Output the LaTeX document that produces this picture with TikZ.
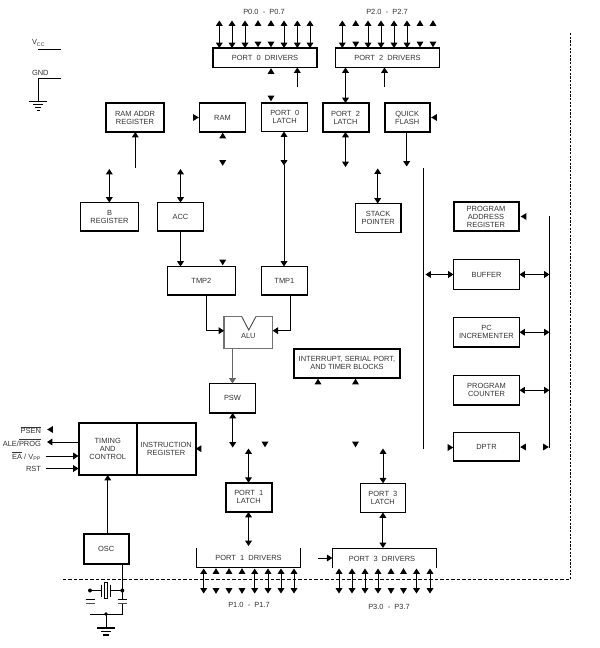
\documentclass[tikz,border=0pt]{standalone}
\usepackage{fontspec}
\setmainfont{Liberation Sans}
\usetikzlibrary{arrows.meta}
\tikzset{
  box/.style={draw=black,line width=0.8pt,inner sep=0pt,outer sep=0pt,align=center,font=\fontsize{5.6pt}{6pt}\selectfont,text=black!80},
  heavy/.style={box,line width=1.5pt},
  wire/.style={line width=0.75pt,black},
  one/.style={wire,-{Triangle[length=4pt,width=5pt]}},
  dbl/.style={wire,{Triangle[length=4pt,width=5pt]}-{Triangle[length=4pt,width=5pt]}},
  lbl/.style={inner sep=0pt,outer sep=0pt,font=\fontsize{5.6pt}{6pt}\selectfont,text=black!80},
  border/.style={line width=0.6pt,black,dash pattern=on 2.6pt off 1.5pt}
}
\newcommand{\bx}[7][box]{\node[#1,minimum width={(#4-#3)*0.75pt},minimum height={(#6-#5)*0.75pt}] (#2) at ({(#3+#4)/2},{(#5+#6)/2}) {#7};}
\newcommand{\tu}[2]{\fill (#1-3.4,#2+2.8) -- (#1+3.4,#2+2.8) -- (#1,#2-2.8) -- cycle;}
\newcommand{\td}[2]{\fill (#1-3.4,#2-2.8) -- (#1+3.4,#2-2.8) -- (#1,#2+2.8) -- cycle;}
\newcommand{\tl}[2]{\fill (#1+2.8,#2-3.4) -- (#1+2.8,#2+3.4) -- (#1-2.8,#2) -- cycle;}
\newcommand{\tr}[2]{\fill (#1-2.8,#2-3.4) -- (#1-2.8,#2+3.4) -- (#1+2.8,#2) -- cycle;}
\begin{document}
\begin{tikzpicture}[x=0.75pt,y=-0.75pt]
\useasboundingbox (0,0) rectangle (599,648);
% labels
\node[lbl] (lp0) at (264,12) {P0.0\ \ -\ \ P0.7};
\node[lbl] (lp2) at (387,12) {P2.0\ \ -\ \ P2.7};
\node[lbl] (lp1) at (249,605) {P1.0\ \ -\ \ P1.7};
\node[lbl] (lp3) at (389,607) {P3.0\ \ -\ \ P3.7};
\node[lbl,anchor=west] (lvcc) at (32,43) {V\textsubscript{CC}};
\node[lbl,anchor=west] (lgnd) at (32,73) {GND};
% boxes
\bx{p0d}{213}{317}{48}{67.5}{PORT\ \ 0\ \ DRIVERS}
\bx{p2d}{335.5}{439.5}{48}{67.5}{PORT\ \ 2\ \ DRIVERS}
\bx[heavy]{rar}{105.7}{164.3}{103}{132}{RAM ADDR\\REGISTER}
\bx{ram}{199.5}{245.5}{103}{132}{RAM}
\bx{p0l}{261.7}{307.7}{103}{131.5}{PORT\ \ 0\\LATCH}
\bx[heavy]{p2l}{322.5}{368.5}{103}{132}{PORT\ \ 2\\LATCH}
\bx[heavy]{qf}{384.5}{430}{103}{132}{QUICK\\FLASH}
\bx{breg}{80.5}{138.5}{202.5}{231}{B\\REGISTER}
\bx{acc}{157.5}{203.5}{202.5}{231}{ACC}
\bx{sp}{355.3}{401}{203.5}{232.5}{STACK\\POINTER}
\bx[heavy]{par}{453.5}{518.5}{202}{231}{PROGRAM\\ADDRESS\\REGISTER}
\bx{buf}{453.5}{519.5}{259.5}{289.5}{BUFFER}
\bx{pci}{453.5}{519.5}{317.5}{347}{PC\\INCREMENTER}
\bx{pc}{453.5}{519.5}{375.5}{405}{PROGRAM\\COUNTER}
\bx{dptr}{453.5}{519.5}{432.5}{461}{DPTR}
\bx{tmp2}{167.3}{235.5}{266.5}{295}{TMP2}
\bx{tmp1}{261.3}{307.5}{266.5}{295}{TMP1}
\bx[box,draw=black!55]{alu}{224}{272.7}{316.5}{348.5}{\raisebox{-9pt}{ALU}}
\bx[heavy]{irq}{294}{400}{348.5}{378}{INTERRUPT, SERIAL PORT,\\AND TIMER BLOCKS}
\bx{psw}{209.5}{255.5}{383.5}{413}{PSW}
\bx[heavy]{tc}{78.5}{137}{422.5}{475}{TIMING\\AND\\CONTROL}
\bx[heavy]{ir}{137}{195.5}{422.5}{475}{INSTRUCTION\\REGISTER}
\bx[heavy]{p1l}{225.7}{271.7}{482.7}{512}{PORT\ \ 1\\LATCH}
\bx{p3l}{360.3}{405.5}{483.3}{512.5}{PORT\ \ 3\\LATCH}
\bx[heavy]{osc}{83.5}{129}{533.5}{563.5}{OSC}
\node[lbl] (p1t) at (248.5,558) {PORT\ \ 1\ \ DRIVERS};
\node[lbl] (p3t) at (382,558.5) {PORT\ \ 3\ \ DRIVERS};
% open driver frames
\coordinate (p1a) at (196.7,548); \coordinate (p1b) at (196.7,567.3);
\coordinate (p1c) at (300.3,567.3); \coordinate (p1e) at (300.3,548);
\draw[wire] (p1a) -- (p1b) -- (p1c) -- (p1e);
\coordinate (p3a) at (332.3,567.5); \coordinate (p3b) at (332.3,548);
\coordinate (p3c) at (436.5,548); \coordinate (p3e) at (436.5,567.5);
\draw[wire] (p3a) -- (p3b) -- (p3c) -- (p3e);
% top pin arrows
\foreach \x in {219.3,232,245,284,297.3,310}{\coordinate (a) at (\x,20.5); \draw[dbl] (a) -- (a |- p0d.north);}
\foreach \x in {258,271}{\tu{\x}{23}\td{\x}{44.5}}
\foreach \x in {342.3,368,381,394,407}{\coordinate (a) at (\x,20.5); \draw[dbl] (a) -- (a |- p2d.north);}
\foreach \x in {355.7,420,433}{\tu{\x}{23}\td{\x}{44.5}}
% bottom pin arrows
\foreach \x in {203.7,254.7,268,281,294,339,352,365,378,416.5,430}{\coordinate (a) at (\x,568.5); \coordinate (b) at (\x,593.5); \draw[dbl] (a) -- (b);}
\foreach \x in {216,229,242,391,403.5}{\tu{\x}{571}\td{\x}{591}}
% power
\coordinate (v1) at (38,50); \coordinate (v2) at (61,50); \draw[wire] (v1) -- (v2);
\coordinate (g1) at (61,79); \coordinate (g2) at (38,79); \coordinate (g3) at (38,101);
\draw[wire] (g1) -- (g2) -- (g3);
\draw[wire] (29,101.3) -- (47,101.3) (33,105) -- (43,105) (35,108) -- (41,108) (36.5,111) -- (39.5,111);
% upper connectors
\tu{271}{71}
\coordinate (c2) at (297.3,87); \draw[one] (c2) -- (c2 |- p0d.south);
\td{271}{98.5}
\tr{196}{117.5}
\coordinate (c3) at (345.5,68); \draw[dbl] (p2d.south -| c3) -- (c3 |- p2l.north);
\coordinate (c4) at (384.5,87); \draw[one] (c4) -- (c4 |- p2d.south);
\coordinate (c5) at (345.5,167); \draw[dbl] (c5 |- p2l.south) -- (c5);
\coordinate (c6) at (406.7,166.5); \draw[one] (c6 |- qf.south) -- (c6);
\tl{434}{117.5}
\coordinate (c7) at (135.3,167.7); \draw[one] (c7) -- (c7 |- rar.south);
\tu{222.7}{135.5} \td{222.7}{163}
\coordinate (c8) at (109.3,169); \draw[dbl] (c8) -- (c8 |- breg.north);
\coordinate (c9) at (180.5,169); \draw[dbl] (c9) -- (c9 |- acc.north);
\coordinate (c10) at (377.7,168.5); \draw[dbl] (c10) -- (c10 |- sp.north);
\coordinate (c11) at (284,165.5);
\draw[dbl] (c11 |- p0l.south) -- (c11);
\draw[one] (c11) -- (c11 |- tmp1.north);
\coordinate (c12) at (180.5,240);
\draw[one] (c12 |- acc.south) -- (c12 |- tmp2.north);
\td{222.7}{262.5}
% ALU
\draw[draw=white,line width=1.4pt] (241.7,316.5) -- (256,316.5);
\coordinate (n1) at (241.7,316.5); \coordinate (n2) at (248.7,330); \coordinate (n3) at (256,316.5);
\draw[line width=0.7pt,black!70] (n1) -- (n2) -- (n3);
\coordinate (c13) at (206.7,330.7); \draw[one] (c13 |- tmp2.south) -- (c13) -- (c13 -| alu.west);
\coordinate (c14) at (290.3,330.7); \draw[one] (c14 |- tmp1.south) -- (c14) -- (c14 -| alu.east);
\draw[one,black!60] (alu.south -| psw.north) -- (psw.north);
\tu{318}{381.5} \tu{355.5}{381.5}
% lower connectors
\coordinate (c15) at (232.7,447.5); \draw[dbl] (c15 |- psw.south) -- (c15);
\td{265}{444.5} \td{355.5}{444.5}
\coordinate (c16) at (248.5,448.5); \draw[dbl] (c16) -- (c16 |- p1l.north);
\coordinate (c17) at (248.5,546); \draw[dbl] (c17 |- p1l.south) -- (c17);
\coordinate (c18) at (383,448.5); \draw[dbl] (c18) -- (c18 |- p3l.north);
\draw[dbl] (p3l.south) -- (p3l.south |- p3c);
\coordinate (c19) at (318,558); \draw[one] (c19) -- (c19 -| p3a);
\tl{198.5}{448.7}
% buses
\coordinate (ba) at (423.3,168); \coordinate (bb) at (423.3,449); \draw[wire] (ba) -- (bb);
\coordinate (bc) at (549.5,216); \coordinate (bd) at (549.5,447.5); \draw[wire] (bc) -- (bd);
\coordinate (la) at (425.5,274.5); \draw[dbl] (la) -- (la -| buf.west);
\foreach \n in {buf,pci,pc}{\draw[dbl] (\n.east) -- (\n.east -| bc);}
\tl{523.5}{216.5} \tr{450.5}{447.5} \tl{523}{447} \tr{546}{447}
% left pins
\node[lbl,anchor=east] (psen) at (41,430) {$\overline{\hbox{PSEN}}$};
\node[lbl,anchor=east] (ale) at (41,442.5) {ALE/$\overline{\hbox{PROG}}$};
\node[lbl,anchor=east] (ea) at (41,456) {$\overline{\hbox{EA}}$ / V\textsubscript{PP}};
\node[lbl,anchor=east] (rst) at (41,468.5) {RST};
\tl{50}{429.5}
\coordinate (e1) at (47,442); \draw[one] (e1 -| tc.west) -- (e1);
\coordinate (e2) at (46,456); \draw[one] (e2) -- (e2 -| tc.west);
\coordinate (e3) at (46,468.5); \draw[one] (e3) -- (e3 -| tc.west);
\draw[one] (osc.north -| tc.south) -- (tc.south);
% crystal
\coordinate (x1) at (122.3,563.5); \coordinate (x2) at (122.3,590.5); \coordinate (x3) at (122.3,600);
\draw[wire] (x1) -- (x3);
\coordinate (x4) at (90,590.5); \coordinate (x5) at (101.5,590.5); \coordinate (x6) at (110.5,590.5);
\draw[wire] (x4) -- (x5) (x6) -- (x2);
\fill (x4) circle[radius=2]; \fill (x2) circle[radius=2];
\draw[wire] (101.5,584.5) -- (101.5,596.5);
\draw[line width=1.1pt] (110.5,584.5) -- (110.5,596.5);
\draw[line width=0.6pt] (104.5,582) rectangle (107.5,598.5);
\draw[line width=0.8pt] (85.5,599.5) -- (95,599.5) (118,599.5) -- (127,599.5);
\draw[line width=0.5pt,black!70] (86,603.5) -- (95,603.5) (118,603.5) -- (127,603.5);
\coordinate (x7) at (122.3,603.5); \coordinate (x8) at (122.3,614); \coordinate (x9) at (90,614);
\draw[wire] (x7) -- (x8) -- (x9);
\coordinate (x10) at (106,614); \coordinate (x11) at (106,627.5);
\draw[wire] (x10) -- (x11); \fill (x10) circle[radius=1.8];
\draw[line width=1.5pt] (97,627.5) -- (115,627.5);
\draw[line width=1pt] (101,631.5) -- (111,631.5);
\draw[line width=1pt] (103,635) -- (109,635);
% chip border
\coordinate (d1) at (63,579); \coordinate (d2) at (570.5,579); \coordinate (d3) at (570.5,33);
\draw[border] (d1) -- (d2);
\draw[border,dash pattern=on 1.6pt off 1.1pt] (d2) -- (d3);
\end{tikzpicture}
\end{document}
